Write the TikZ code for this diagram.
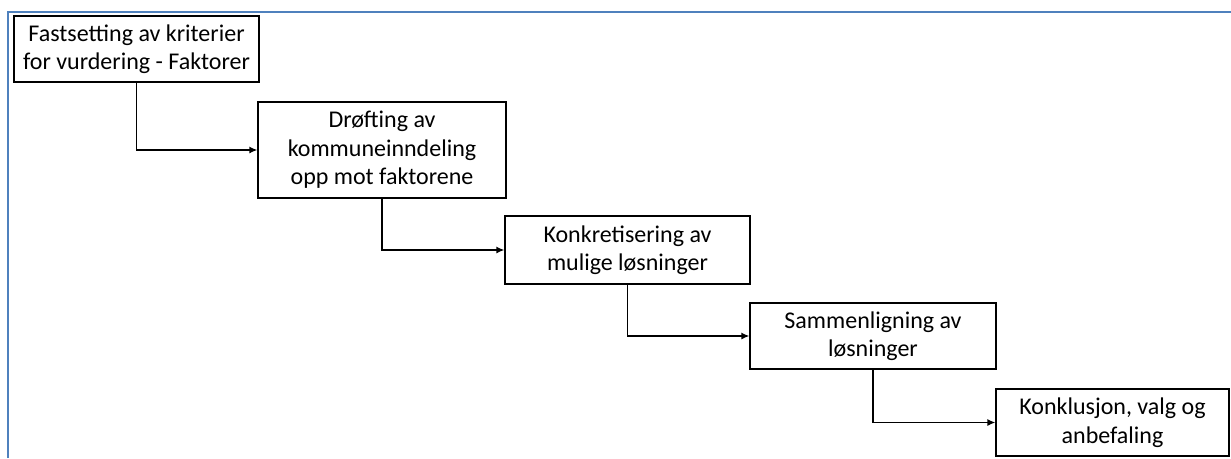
\documentclass[tikz,border=0pt]{standalone}
\usepackage{fontspec}
\setmainfont{Carlito}
\usetikzlibrary{arrows.meta}
\definecolor{frameblue}{HTML}{4F81BD}
\begin{document}
\begin{tikzpicture}[x=1pt,y=-1pt,
  stage/.style={draw,line width=1.3pt,align=center,inner sep=0pt,
    font=\fontsize{24}{28.5}\selectfont},
  flow/.style={-{Latex[length=8pt,width=7pt]},line width=1.3pt}]

 \useasboundingbox (0,0) rectangle (1231,458);

 % frame
 \draw[frameblue,line width=2.5pt] (8,458) -- (8,12) -- (1231,12);

  \node[stage,minimum width=245pt,minimum height=66pt] (fa) at (136.5,49)
    {Fastsetting av kriterier\\for vurdering - Faktorer};
  \node[stage,minimum width=248pt,minimum height=96pt] (dr) at (382,150)
    {Drøfting av\\kommuneinndeling\\opp mot faktorene};
  \node[stage,minimum width=245pt,minimum height=68pt] (ko) at (627.5,250)
    {Konkretisering av\\mulige løsninger};
  \node[stage,minimum width=246pt,minimum height=66pt] (sa) at (873,336)
    {Sammenligning av\\løsninger};
  \node[stage,minimum width=233pt,minimum height=67pt] (an) at (1112.5,422.5)
    {Konklusjon, valg og\\anbefaling};

    \draw[flow] (fa) |- (dr);
    \draw[flow] (dr) |- (ko);
    \draw[flow] (ko) |- (sa);
    \draw[flow] (sa) |- (an);

\end{tikzpicture}
\end{document}
